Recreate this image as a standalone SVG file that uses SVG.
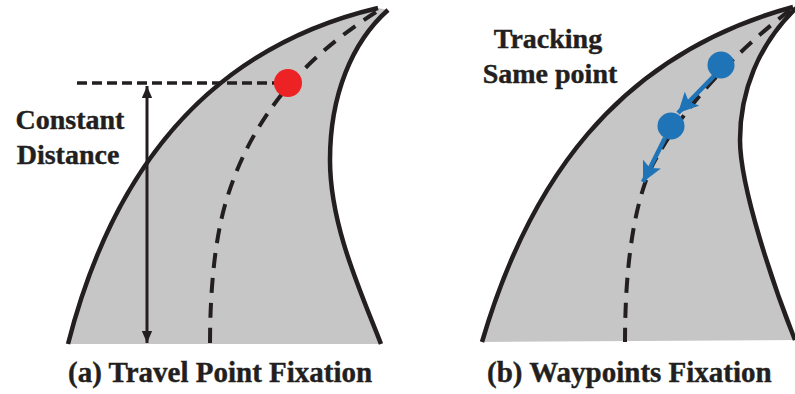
<svg xmlns="http://www.w3.org/2000/svg" width="795" height="394" viewBox="0 0 795 394">
<style>
.road{fill:#c6c6c6;stroke:none}
.edge{fill:none;stroke:#231f20;stroke-width:4.5;stroke-linecap:butt}
.center{fill:none;stroke:#231f20;stroke-width:4;stroke-dasharray:15 10}
.hdash{fill:none;stroke:#231f20;stroke-width:3.5;stroke-dasharray:10 5}
.t1{font-family:'Liberation Serif','Times New Roman',serif;font-weight:bold;fill:#231f20;stroke:#231f20;stroke-width:0.4}
.cap{font-size:29px}
.note{font-size:28px;text-anchor:middle}
.blk{stroke:#231f20;stroke-width:3;fill:none}
.blu{stroke:#1f73b7;stroke-width:4.5;fill:none}
</style>
<defs>
<marker id="ahBlack" markerUnits="userSpaceOnUse" markerWidth="12" markerHeight="14" refX="14" refY="6" orient="auto-start-reverse" viewBox="0 0 14 12">
<path d="M0,0 L14,6 L0,12 Z" fill="#231f20"/>
</marker>
<marker id="ahBlue" markerUnits="userSpaceOnUse" markerWidth="20" markerHeight="20" refX="18" refY="9" orient="auto" viewBox="0 0 18 18">
<path d="M0,0 L18,9 L0,18 L4,9 Z" fill="#1f73b7"/>
</marker>
</defs>

<g id="panel-a">
<path class="road" d="M68,344 C110,180 200,50 378,8 L388,10 C352,42 330,95 330,160 S360,290 381,344 Z"/>
<path class="edge" d="M68,344 C110,180 200,50 378,8"/>
<path class="edge" d="M388,10 C352,42 330,95 330,160 S360,290 381,344"/>
<path class="center" d="M376,12 C325,45 255,100 225,205 C215,240 210,290 210,344"/>
<path class="hdash" d="M77,83 L276,83"/>
<circle id="travel-point" cx="288" cy="83" r="14" fill="#ed2224"/>
<text class="t1 note" x="70" y="129">Constant</text>
<text class="t1 note" x="68" y="164">Distance</text>
<text class="t1 cap" x="68" y="382">(a) Travel Point Fixation</text>
</g>

<g id="panel-b">
<path class="road" d="M482,342 C528,185 615,55 793,7 L796,8 C758,45 740,92 740,140 S775,290 795,340 Z"/>
<path class="edge" d="M482,342 C528,185 615,55 793,7"/>
<path class="edge" d="M796,8 C758,45 740,92 740,140 S775,290 795,340"/>
<path class="center" d="M790,10 C745,45 685,100 650,170 C633,210 625,270 625,342"/>
<circle id="waypoint-1" cx="721" cy="65" r="13.5" fill="#1f73b7"/>
<circle id="waypoint-2" cx="671" cy="126" r="13.5" fill="#1f73b7"/>
<text class="t1 note" x="548" y="48">Tracking</text>
<text class="t1 note" x="550" y="83">Same point</text>
<text class="t1 cap" x="487" y="382">(b) Waypoints Fixation</text>
</g>

<g id="connectors">
<line class="blk" x1="147" y1="86" x2="147" y2="343" marker-start="url(#ahBlack)" marker-end="url(#ahBlack)"/>
<line class="blu" x1="714" y1="76" x2="678" y2="113" marker-end="url(#ahBlue)"/>
<line class="blu" x1="665" y1="138" x2="643" y2="182" marker-end="url(#ahBlue)"/>
</g>
</svg>
